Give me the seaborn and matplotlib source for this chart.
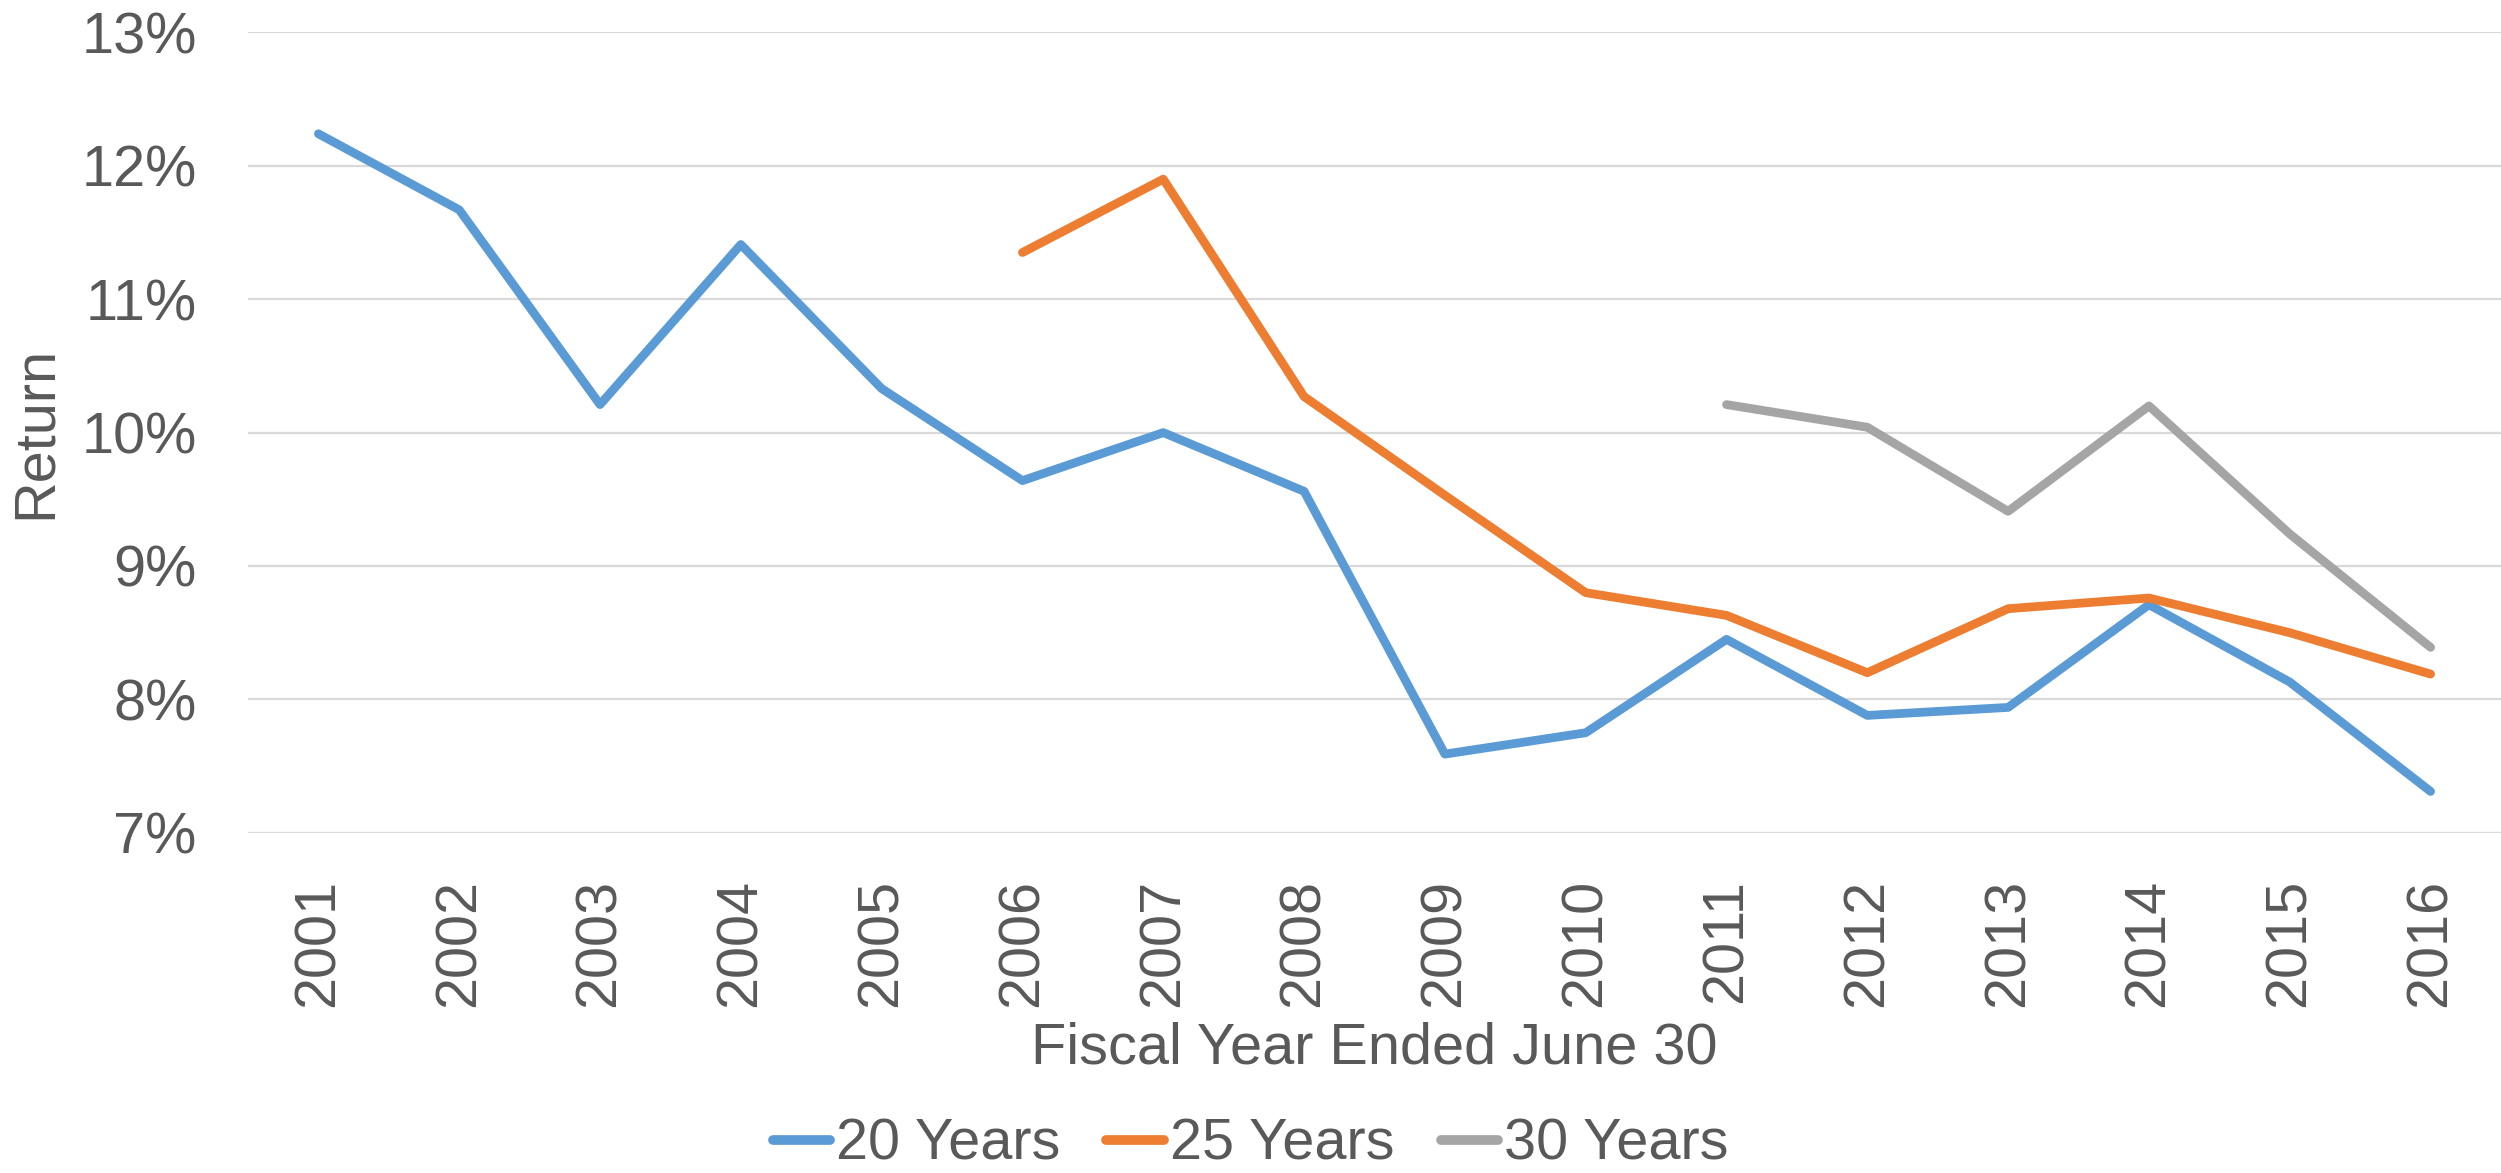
import matplotlib
matplotlib.use("Agg")
import matplotlib.pyplot as plt
import pandas as pd
import seaborn as sns

# Annualized returns (%) over trailing periods, by fiscal year end
years_20 = list(range(2001, 2017))
ret_20 = [12.24, 11.67, 10.21, 11.41, 10.33, 9.64, 10.00, 9.56,
          7.59, 7.75, 8.45, 7.88, 7.94, 8.71, 8.13, 7.31]
years_25 = list(range(2006, 2017))
ret_25 = [11.35, 11.90, 10.27, 9.53, 8.80, 8.63, 8.20, 8.68, 8.76, 8.50, 8.19]
years_30 = list(range(2011, 2017))
ret_30 = [10.21, 10.04, 9.41, 10.20, 9.24, 8.39]

series_names = ["20 Years", "25 Years", "30 Years"]
series_colors = ["#5B9BD5", "#ED7D31", "#A5A5A5"]
y_ticks = [7, 8, 9, 10, 11, 12, 13]
x_ticks = list(range(2001, 2017))

frames = []
for name, yrs, vals in zip(series_names, [years_20, years_25, years_30],
                           [ret_20, ret_25, ret_30]):
    frames.append(pd.DataFrame({"Year": yrs, "Return": vals, "Period": name}))
df = pd.concat(frames, ignore_index=True)

sns.set_theme(style="white")
text_color = "#595959"
plt.rcParams["font.family"] = ["Liberation Sans", "DejaVu Sans"]
plt.rcParams["text.color"] = text_color
plt.rcParams["axes.labelcolor"] = text_color
plt.rcParams["xtick.color"] = text_color
plt.rcParams["ytick.color"] = text_color

fs = 41.5
fig = plt.figure(figsize=(25.01, 11.73), dpi=100)
ax = fig.add_axes([248 / 2501, 1 - 832.8 / 1173, 1 - 248 / 2501, (832.8 - 32.4) / 1173])

sns.lineplot(data=df, x="Year", y="Return", hue="Period",
             palette=dict(zip(series_names, series_colors)),
             linewidth=6.3, solid_capstyle="round", solid_joinstyle="round",
             ax=ax, legend=True)
for line in ax.lines:
    line.set_linewidth(6.3)
    line.set_solid_capstyle("round")
    line.set_solid_joinstyle("round")

ax.set_xlim(2000.5, 2016.5)
ax.set_ylim(7, 13)
ax.set_yticks(y_ticks)
ax.set_yticklabels([f"{v}%" for v in y_ticks])
ax.set_xticks(x_ticks)
ax.set_xticklabels([str(y) for y in x_ticks], rotation=90)
ax.tick_params(axis="both", length=0, labelsize=fs)
ax.tick_params(axis="x", pad=33)
ax.tick_params(axis="y", pad=37)

ax.grid(axis="y", color="#D9D9D9", linewidth=1.6)
ax.set_axisbelow(True)
for s in ax.spines.values():
    s.set_visible(False)

ax.set_xlabel("Fiscal Year Ended June 30", fontsize=fs, color=text_color)
ax.xaxis.set_label_coords(0.5, -0.269)
ax.xaxis.label.set_va("center")
ax.set_ylabel("Return", fontsize=fs, color=text_color)
ax.yaxis.set_label_coords(-0.094, 0.5)
ax.yaxis.label.set_va("center")

handles, labels = ax.get_legend_handles_labels()
ax.get_legend().remove()
for h in handles:
    h.set_linewidth(7)
    h.set_solid_capstyle("round")
fig.legend(handles, labels, loc="center", bbox_to_anchor=(0.5, 1 - 1145 / 1173),
           ncol=3, frameon=False, fontsize=fs, handlelength=1.0,
           handletextpad=0.1, columnspacing=0.8, borderaxespad=0.0,
           borderpad=0.1)

fig.savefig("out.png", dpi=100)
